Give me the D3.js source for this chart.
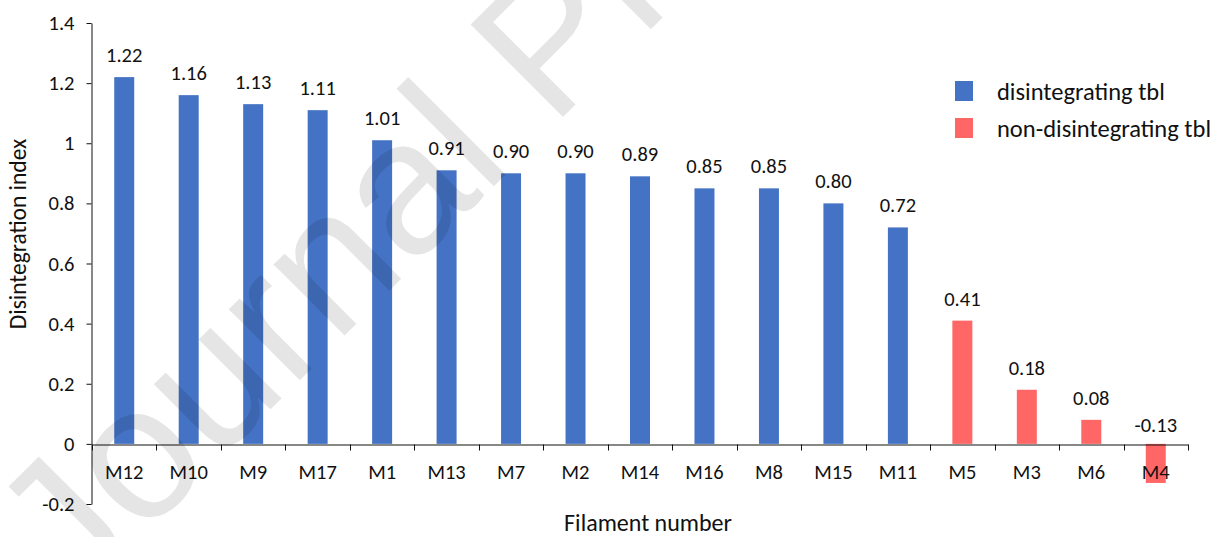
<!DOCTYPE html>
<html>
<head>
<meta charset="utf-8">
<script src="https://cdn.jsdelivr.net/npm/d3@7/dist/d3.min.js"></script>
<style>
  html, body { margin: 0; padding: 0; background: #fff; }
  svg { display: block; }
  .lbl { font-family: Carlito, Lato, "Liberation Sans", sans-serif; fill: #111; }
</style>
</head>
<body>
<script>
// Filament disintegration index, sorted from highest to lowest
const categories = ["M12", "M10", "M9", "M17", "M1", "M13", "M7", "M2", "M14",
                    "M16", "M8", "M15", "M11", "M5", "M3", "M6", "M4"];
const values = [1.22, 1.16, 1.13, 1.11, 1.01, 0.91, 0.90, 0.90, 0.89,
                0.85, 0.85, 0.80, 0.72, 0.41, 0.18, 0.08, -0.13];
// which series each filament belongs to (index into seriesNames)
const seriesOf = [0, 0, 0, 0, 0, 0, 0, 0, 0, 0, 0, 0, 0, 1, 1, 1, 1];
const seriesNames = ["disintegrating tbl", "non-disintegrating tbl"];
const seriesColors = ["#4472C4", "#FF6666"];
const yTickValues = [-0.2, 0, 0.2, 0.4, 0.6, 0.8, 1, 1.2, 1.4];
const yTickLabels = ["-0.2", "0", "0.2", "0.4", "0.6", "0.8", "1", "1.2", "1.4"];

const W = 1212, H = 537;
const svg = d3.select("body").append("svg").attr("width", W).attr("height", H);

const x = d3.scaleBand().domain(categories).range([92, 1188])
  .paddingInner(0.69).paddingOuter(0.345);
const y = d3.scaleLinear().domain([-0.2, 1.4]).range([504, 23]);
const y0 = Math.round(y(0)) + 0.5;

// bars
svg.append("g").selectAll("rect").data(categories).join("rect")
  .attr("x", d => x(d))
  .attr("width", x.bandwidth())
  .attr("y", (d, i) => y(Math.max(0, values[i])))
  .attr("height", (d, i) => Math.abs(y(values[i]) - y(0)))
  .attr("fill", (d, i) => seriesColors[seriesOf[i]]);

// value labels
svg.append("g").selectAll("text").data(categories).join("text")
  .attr("class", "lbl")
  .attr("x", d => x(d) + x.bandwidth() / 2)
  .attr("y", (d, i) => values[i] >= 0 ? y(values[i]) - 15 : y(0) - 12)
  .attr("text-anchor", "middle")
  .attr("font-size", 20.5)
  .text((d, i) => values[i].toFixed(2));

// y axis
const yAxis = svg.append("g").attr("transform", "translate(91.5,0)")
  .call(d3.axisLeft(y).tickValues(yTickValues)
    .tickFormat((d, i) => yTickLabels[i])
    .tickSize(5).tickSizeOuter(0).tickPadding(12));
yAxis.select(".domain").attr("stroke", "#111");
yAxis.selectAll(".tick line").attr("stroke", "#111");
yAxis.selectAll(".tick text").attr("class", "lbl").attr("font-size", 20.5)
  .attr("font-family", null).attr("fill", null);

// category axis along the zero line
const xAxis = svg.append("g").attr("transform", `translate(0,${y0})`)
  .call(d3.axisBottom(x).tickSize(0).tickSizeOuter(0).tickPadding(20));
xAxis.select(".domain").attr("stroke", "#111");
xAxis.selectAll(".tick text").attr("class", "lbl").attr("font-size", 20.5)
  .attr("font-family", null).attr("fill", null);
// tick marks between categories
const bounds = d3.range(categories.length + 1).map(i => x.range()[0] + i * x.step());
xAxis.append("g").selectAll("line").data(bounds).join("line")
  .attr("x1", d => Math.round(d) + 0.5).attr("x2", d => Math.round(d) + 0.5)
  .attr("y1", 0).attr("y2", 6).attr("stroke", "#111");

// axis titles
svg.append("text").attr("class", "lbl")
  .attr("transform", "translate(26,234) rotate(-90)")
  .attr("text-anchor", "middle")
  .attr("font-size", 23.5)
  .text("Disintegration index");
svg.append("text").attr("class", "lbl")
  .attr("x", 648).attr("y", 531)
  .attr("text-anchor", "middle")
  .attr("font-size", 24)
  .text("Filament number");

// legend
const legend = svg.append("g").selectAll("g").data(seriesNames).join("g")
  .attr("transform", (d, i) => `translate(955,${81 + i * 37})`);
legend.append("rect").attr("width", 18).attr("height", 20)
  .attr("fill", (d, i) => seriesColors[i]);
legend.append("text").attr("class", "lbl")
  .attr("x", 42).attr("y", 10).attr("dy", "0.35em")
  .attr("font-size", 24.5)
  .text(d => d);

// diagonal watermark
svg.append("text")
  .attr("transform", "translate(74,606) rotate(-45)")
  .style("font-family", "'Liberation Sans', Arial, sans-serif")
  .style("font-size", "190px")
  .style("fill", "#000")
  .style("fill-opacity", 0.1)
  .text("Journal Pre-proof");
</script>
</body>
</html>
